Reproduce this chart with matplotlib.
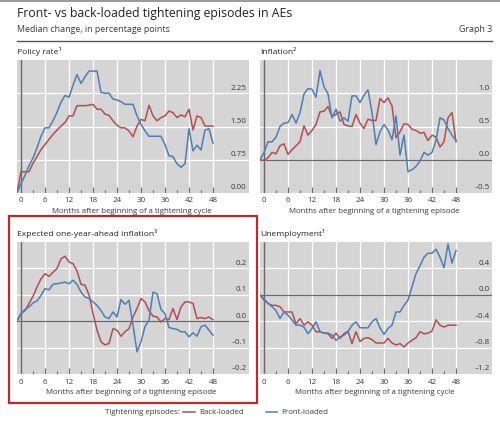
import matplotlib
matplotlib.use("Agg")
import matplotlib.pyplot as plt
from matplotlib.lines import Line2D
from matplotlib.patches import Rectangle

# ── DATA ──────────────────────────────────────────────────────────────────────
MONTHS = list(range(-1, 49))

policy_back = [0.00, 0.48, 0.48, 0.48, 0.67, 0.82, 0.98, 1.09, 1.21, 1.32,
               1.42, 1.51, 1.59, 1.74, 1.74, 1.97, 1.97, 1.97, 1.98, 2.00,
               1.89, 1.89, 1.78, 1.75, 1.63, 1.53, 1.47, 1.47, 1.40, 1.27,
               1.51, 1.66, 1.63, 1.98, 1.74, 1.63, 1.70, 1.74, 1.85, 1.81,
               1.70, 1.76, 1.72, 1.89, 1.42, 1.74, 1.70, 1.51, 1.51, 1.51]
policy_front = [0.00, 0.21, 0.40, 0.61, 0.79, 1.02, 1.28, 1.47, 1.47, 1.63,
                1.82, 2.05, 2.20, 2.16, 2.43, 2.67, 2.47, 2.62, 2.75, 2.75,
                2.75, 2.27, 2.25, 2.25, 2.12, 2.10, 2.06, 2.00, 2.00, 2.00,
                1.74, 1.55, 1.40, 1.28, 1.28, 1.28, 1.28, 1.09, 0.84, 0.82,
                0.66, 0.58, 0.66, 1.45, 0.95, 1.08, 0.97, 1.42, 1.45, 1.12]

infl_back = [0.00, -0.01, 0.03, 0.11, 0.09, 0.21, 0.24, 0.08, 0.15, 0.21,
             0.27, 0.51, 0.37, 0.44, 0.53, 0.72, 0.73, 0.80, 0.65, 0.68,
             0.72, 0.53, 0.51, 0.50, 0.68, 0.55, 0.47, 0.61, 0.59, 0.59,
             0.92, 0.86, 0.93, 0.81, 0.33, 0.42, 0.54, 0.53, 0.46, 0.44,
             0.40, 0.41, 0.29, 0.37, 0.34, 0.19, 0.27, 0.63, 0.71, 0.27]
infl_front = [0.00, 0.11, 0.27, 0.27, 0.34, 0.50, 0.55, 0.56, 0.68, 0.55,
              0.71, 0.99, 1.07, 1.06, 0.94, 1.34, 1.10, 0.99, 0.63, 0.76,
              0.58, 0.63, 0.58, 0.96, 0.96, 0.86, 0.97, 1.05, 0.71, 0.23,
              0.42, 0.53, 0.45, 0.30, 0.66, 0.07, 0.37, -0.18, -0.15, -0.10,
              -0.02, 0.11, 0.07, 0.11, 0.29, 0.63, 0.60, 0.47, 0.37, 0.29]

exp_back = [0.000, 0.029, 0.040, 0.067, 0.094, 0.130, 0.160, 0.180, 0.170, 0.185,
            0.200, 0.236, 0.246, 0.224, 0.218, 0.190, 0.140, 0.136, 0.100, 0.030,
            -0.034, -0.078, -0.090, -0.084, -0.028, -0.034, -0.057, -0.040, -0.028, 0.016,
            0.048, 0.086, 0.073, 0.040, 0.019, 0.016, -0.003, 0.010, 0.006, 0.048,
            0.006, 0.054, 0.073, 0.073, 0.067, 0.010, 0.014, 0.010, 0.016, 0.006]
exp_front = [0.000, 0.029, 0.044, 0.054, 0.069, 0.077, 0.098, 0.123, 0.119, 0.140,
             0.142, 0.145, 0.148, 0.142, 0.155, 0.140, 0.110, 0.092, 0.086, 0.073,
             0.060, 0.040, 0.016, 0.010, 0.035, 0.016, 0.082, 0.064, 0.079, -0.015,
             -0.116, -0.078, -0.020, 0.004, 0.110, 0.104, 0.044, 0.029, -0.024, -0.028,
             -0.031, -0.040, -0.040, -0.059, -0.044, -0.057, -0.021, -0.015, -0.034, -0.053]

unemp_back = [0.00, -0.08, -0.13, -0.16, -0.16, -0.18, -0.26, -0.26, -0.26, -0.44,
              -0.36, -0.46, -0.41, -0.46, -0.56, -0.56, -0.58, -0.59, -0.66, -0.58,
              -0.66, -0.59, -0.55, -0.74, -0.56, -0.71, -0.66, -0.65, -0.68, -0.73,
              -0.73, -0.73, -0.66, -0.73, -0.76, -0.74, -0.79, -0.73, -0.69, -0.65,
              -0.56, -0.59, -0.58, -0.55, -0.38, -0.46, -0.49, -0.46, -0.46, -0.46]
unemp_front = [0.00, -0.06, -0.13, -0.18, -0.24, -0.36, -0.26, -0.31, -0.38, -0.46,
               -0.46, -0.49, -0.59, -0.51, -0.41, -0.56, -0.58, -0.58, -0.61, -0.69,
               -0.64, -0.61, -0.56, -0.46, -0.41, -0.50, -0.50, -0.50, -0.41, -0.36,
               -0.50, -0.60, -0.51, -0.46, -0.26, -0.26, -0.16, -0.08, 0.12, 0.32,
               0.44, 0.57, 0.63, 0.63, 0.69, 0.57, 0.41, 0.77, 0.48, 0.67]

X_TICKS = list(range(0, 49, 6))

# ── STYLE ─────────────────────────────────────────────────────────────────────
RED = "#b24e50"
BLUE = "#4f7db4"
BG = "#d5d5d5"
TXT = "#3a3a3a"
AXIS = "#6a6a6a"
W, H = 500, 432

plt.rcParams["font.family"] = ["Open Sans", "DejaVu Sans"]

fig = plt.figure(figsize=(W / 100, H / 100), dpi=100)


def px(x, y):
    # pixel (from top-left) -> figure fraction
    return x / W, 1 - y / H


def panel(left, top, right, bottom, title, xlabel, back, front,
          yticks, ylabels, ytop, zero_line):
    x0, y1 = px(left, bottom)
    ax = fig.add_axes([x0, y1, (right - left) / W, (bottom - top) / H])
    ax.set_facecolor(BG)
    ax.set_xlim(-1, 57)
    ax.set_ylim(yticks[0], ytop)
    for s in ax.spines.values():
        s.set_visible(False)
    ax.set_yticks([])
    ax.set_xticks([])

    # white grid
    for g in X_TICKS[1:]:
        ax.axvline(g, color="white", lw=0.9, zorder=1)
    for v in yticks[1:]:
        ax.axhline(v, color="white", lw=0.9, zorder=1)
    if zero_line:
        ax.axhline(0, color=AXIS, lw=0.9, zorder=2)
    ax.axvline(0, color=AXIS, lw=1.0, zorder=2)

    # inward ticks from the bottom edge
    span = ytop - yticks[0]
    for m in range(3, 49, 3):
        h = 0.045 if m % 6 == 0 else 0.025
        ax.plot([m, m], [yticks[0], yticks[0] + h * span], color=AXIS,
                lw=0.8, zorder=2, solid_capstyle="butt")

    ax.plot(MONTHS, back, color=RED, lw=1.1, zorder=3)
    ax.plot(MONTHS, front, color=BLUE, lw=1.1, zorder=4)

    for v, lab in zip(yticks, ylabels):
        ax.text(56.4, v + 0.012 * span, lab, ha="right", va="bottom",
                fontsize=5.8, color=TXT, zorder=5)

    _, fy = px(0, bottom + 8)
    for m in X_TICKS:
        xd = ax.transData.transform((m, 0))[0]
        fig.text(xd / W, fy, str(m), ha="center", va="center",
                 fontsize=5.8, color=TXT)
    fig.text(*px(left + (right - left) * 28.6 / 58, bottom + 19), xlabel,
             ha="center", va="center", fontsize=5.65, color=TXT)
    fig.text(*px(left, top - 8), title, ha="left", va="center",
             fontsize=6.1, color="#222222")
    return ax


# ── HEADER ────────────────────────────────────────────────────────────────────
fig.add_artist(Line2D([0, 1], [1 - 1 / H, 1 - 1 / H], color="#888888", lw=1.2))
fig.text(*px(17, 13), "Front- vs back-loaded tightening episodes in AEs",
         ha="left", va="center", fontsize=8.85, color="#222222")
fig.text(*px(17, 30), "Median change, in percentage points",
         ha="left", va="center", fontsize=6.4, color=TXT)
fig.text(*px(492, 30), "Graph 3", ha="right", va="center", fontsize=6.4,
         color=TXT)
fig.add_artist(Line2D([17 / W, 492 / W], [1 - 41 / H, 1 - 41 / H],
                      color="#555555", lw=1.0))

# ── PANELS ────────────────────────────────────────────────────────────────────
panel(17, 60, 249, 193, "Policy rate\u00b9",
      "Months after beginning of a tightening cycle",
      policy_back, policy_front,
      [0.0, 0.75, 1.5, 2.25], ["0.00", "0.75", "1.50", "2.25"], 3.0, False)
panel(260, 60, 492, 193, "Inflation\u00b2",
      "Months after beginning of a tightening episode",
      infl_back, infl_front,
      [-0.5, 0.0, 0.5, 1.0], ["\u20130.5", "0.0", "0.5", "1.0"], 1.5, True)
panel(17, 242, 249, 374, "Expected one-year-ahead inflation\u00b3",
      "Months after beginning of a tightening episode",
      exp_back, exp_front,
      [-0.2, -0.1, 0.0, 0.1, 0.2], ["\u20130.2", "\u20130.1", "0.0", "0.1", "0.2"],
      0.3, True)
panel(260, 242, 492, 374, "Unemployment\u00b9",
      "Months after beginning of a tightening cycle",
      unemp_back, unemp_front,
      [-1.2, -0.8, -0.4, 0.0, 0.4], ["\u20131.2", "\u20130.8", "\u20130.4", "0.0", "0.4"],
      0.8, True)

# red highlight box round the expected-inflation panel
fig.add_artist(Rectangle(px(9, 403), 248 / W, 187 / H, fill=False,
                         edgecolor="#c0282d", lw=1.6))

# ── LEGEND ────────────────────────────────────────────────────────────────────
ly = 1 - 412 / H
fig.text(180 / W, ly, "Tightening episodes:", ha="right", va="center",
         fontsize=5.7, color=TXT)
fig.add_artist(Line2D([183 / W, 195 / W], [ly, ly], color=RED, lw=1.1))
fig.text(199 / W, ly, "Back-loaded", ha="left", va="center", fontsize=5.7,
         color=TXT)
fig.add_artist(Line2D([266 / W, 277 / W], [ly, ly], color=BLUE, lw=1.1))
fig.text(281 / W, ly, "Front-loaded", ha="left", va="center", fontsize=5.7,
         color=TXT)

fig.savefig("out.png", dpi=100)
